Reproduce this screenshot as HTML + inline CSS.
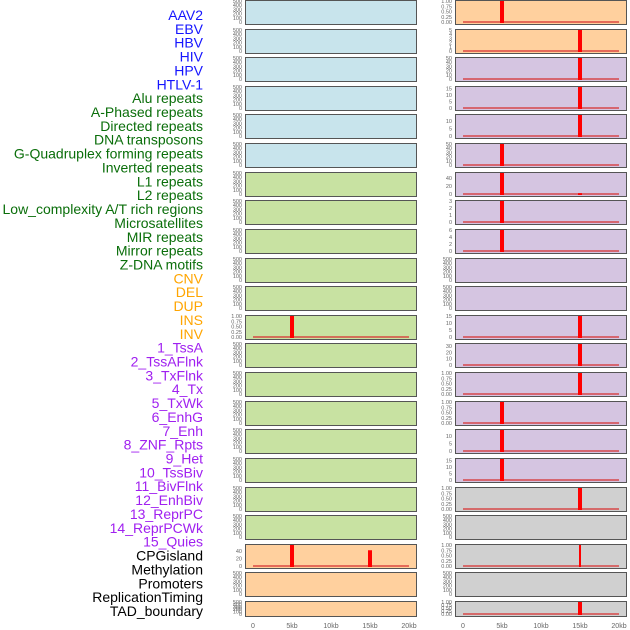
<!DOCTYPE html>
<html><head><meta charset="utf-8"><style>
html,body{margin:0;padding:0;background:#fff;width:630px;height:630px;overflow:hidden}
svg{display:block;font-family:"Liberation Sans",sans-serif}
</style></head><body>
<svg id="chart" width="630" height="630"></svg>
<script>
const labels=["AAV2","EBV","HBV","HIV","HPV","HTLV-1","Alu repeats","A-Phased repeats","Directed repeats","DNA transposons","G-Quadruplex forming repeats","Inverted repeats","L1 repeats","L2 repeats","Low_complexity A/T rich regions","Microsatellites","MIR repeats","Mirror repeats","Z-DNA motifs","CNV","DEL","DUP","INS","INV","1_TssA","2_TssAFlnk","3_TxFlnk","4_Tx","5_TxWk","6_EnhG","7_Enh","8_ZNF_Rpts","9_Het","10_TssBiv","11_BivFlnk","12_EnhBiv","13_ReprPC","14_ReprPCWk","15_Quies","CPGisland","Methylation","Promoters","ReplicationTiming","TAD_boundary"];
const labelGroups=[0,0,0,0,0,0,1,1,1,1,1,1,1,1,1,1,1,1,1,2,2,2,2,2,3,3,3,3,3,3,3,3,3,3,3,3,3,3,3,4,4,4,4,4];
const groupColors=["#1515ff","#0a6e0a","#ffa500","#a020f0","#000"];
const leftFill=["b","b","b","b","b","b","g","g","g","g","g","g","g","g","g","g","g","g","g","o","o","o"];
const rightFill=["o","o","p","p","p","p","p","p","p","p","p","p","p","p","p","p","p","y","y","y","y","y"];
const fillMap={b:"#c8e4ec",g:"#c8e2a2",o:"#ffd09e",p:"#d5c5e1",y:"#d0d0d0"};
const E=[0,100,200,300,400,500], U=[0,0.25,0.5,0.75,1];
const leftTicks=[E,E,E,E,E,E,E,E,E,E,E,U,E,E,E,E,E,E,E,[0,20,40],E,E];
const leftMax=[500,500,500,500,500,500,500,500,500,500,500,1,500,500,500,500,500,500,500,56,500,500];
const leftBars=[[],[],[],[],[],[],[],[],[],[],[],[[5,1]],[],[],[],[],[],[],[],[[5,56],[15,42]],[],[]];
const rightTicks=[U,[0,1,2,3,4,5],[0,10,20,30,40,50],[0,5,10,15],[0,5,10],[0,10,20,30,40,50],[0,20,40],[0,1,2,3],[0,2,4,6],E,E,[0,5,10,15],[0,10,20,30],U,U,[0,5,10],[0,5,10,15],U,E,U,E,U];
const rightMax=[1,5,50,16,14,50,52,3,6,500,500,15,33,1,1,14,16,1,500,1,500,1];
const rightBars=[[[5,1]],[[15,5]],[[15,50]],[[15,16]],[[15,14]],[[5,50]],[[5,52],[15,2]],[[5,3]],[[5,6]],[],[],[[15,15]],[[15,33]],[[15,1]],[[5,1]],[[5,14]],[[5,16]],[[15,1]],[],[[15,1]],[],[[15,1]]];
const xTicks=[0,5,10,15,20];
const xTickLabels=["0","5kb","10kb","15kb","20kb"];

const NS="http://www.w3.org/2000/svg";
const svg=document.getElementById("chart");
function mk(t,a,p){const e=document.createElementNS(NS,t);for(const k in a)e.setAttribute(k,a[k]);(p||svg).appendChild(e);return e;}
const rowTop=i=>Math.round(i*28.62);
const rowH=i=>i===21?15:24;

labels.forEach((l,i)=>{
  const t=mk("text",{x:203,y:20+i*13.86,"text-anchor":"end","font-size":"14",fill:groupColors[labelGroups[i]]});
  t.textContent=l;
  
  
});

function drawCol(x0,fills,ticks,maxs,bars,side){
  const w=171, xs=v=>x0+8+v/20*156;
  for(let i=0;i<22;i++){
    const top=rowTop(i),h=rowH(i),y0=top+h-2;
    const ys=v=>y0-v/maxs[i]*(h-3);
    const r=mk("rect",{x:x0+0.5,y:top+0.5,width:w,height:h,fill:fillMap[fills[i]],stroke:"#555","stroke-width":1});
    
    
    ticks[i].forEach(v=>{
      const t=mk("text",{x:x0-3,y:ys(v)+2,"text-anchor":"end","font-size":"5.5",fill:"#666"});
      t.textContent=maxs[i]===1?v.toFixed(2):String(v);
      
      
    });
    if(bars[i].length){
      const b=mk("rect",{x:xs(0),y:y0-1,width:xs(20)-xs(0),height:2,fill:"rgba(215,50,50,0.65)"});
      
      
    }
    const bw=(side==='right'&&i===19)?2:4;
    bars[i].forEach(([p,v])=>{
      const y=ys(v);
      const br=mk("rect",{x:xs(p)-bw/2,y:y,width:bw,height:y0+1-y,fill:"#ff0000"});
      
      
    });
  }
  xTicks.forEach((v,k)=>{
    const t=mk("text",{x:xs(v),y:628,"text-anchor":"middle","font-size":"7",fill:"#666"});
    t.textContent=xTickLabels[k];
    
    
  });
}
drawCol(245,leftFill,leftTicks,leftMax,leftBars,'left');
drawCol(455,rightFill,rightTicks,rightMax,rightBars,'right');
</script>
</body></html>
